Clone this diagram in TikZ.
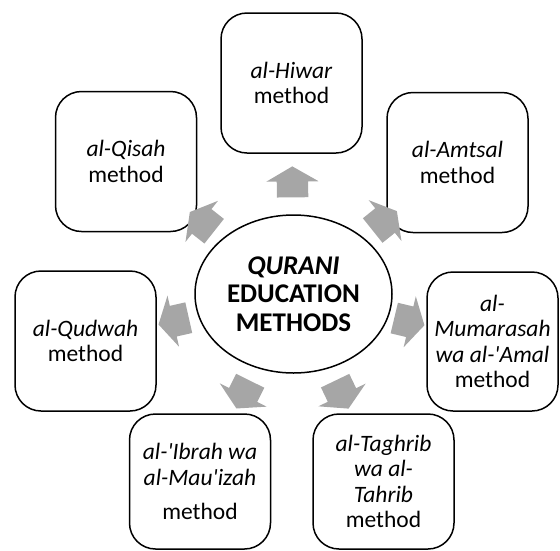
\documentclass[tikz,border=0pt]{standalone}
\usepackage{fontspec}
\setmainfont{Carlito}
\usetikzlibrary{shapes.geometric, shapes.arrows}

\definecolor{arrowgray}{RGB}{166,166,166}

\tikzset{
  methodbox/.style={draw=black, line width=1.5pt, rounded corners=26pt, fill=white,
    align=center, inner sep=0pt, minimum width=141pt, minimum height=140pt,
    font=\fontsize{23.5}{25.5}\selectfont},
  hub/.style={ellipse, draw=black, line width=1.5pt, fill=white, align=center,
    inner sep=0pt, minimum width=197pt, minimum height=158pt,
    font=\fontsize{27}{28.5}\selectfont\bfseries},
  flowarrow/.style={single arrow, fill=arrowgray, draw=none, inner sep=0pt,
    text height=31pt, text depth=0pt, minimum height=31pt,
    single arrow head extend=10.5pt, single arrow tip angle=120,
    sloped, allow upside down}
}

\begin{document}
\begin{tikzpicture}[x=1pt, y=-1pt]
        \useasboundingbox (0,0) rectangle (560,550);

        \node[hub] (quran) at (293.5,294) {\textit{QURANI}\\EDUCATION\\METHODS};

        \node[methodbox] (hiwar) at (291.5,83) {\textit{al-Hiwar}\\method};
        \node[methodbox] (amtsal) at (457.5,162.5) {\textit{al-Amtsal}\\method};
        \node[methodbox, minimum width=131pt, minimum height=139pt] (mumarasah) at (492.5,341.5)
          {\textit{al-}\\\textit{Mumarasah}\\\textit{wa al-\textquotesingle Amal}\\method};
        \node[methodbox, minimum height=135pt] (taghrib) at (383.5,481.5)
          {\textit{al-Taghrib}\\\textit{wa al-}\\\textit{Tahrib}\\method};
        \node[methodbox, minimum height=135pt] (ibrah) at (200,481.5)
          {\textit{al-\textquotesingle Ibrah wa}\\\textit{al-Mau\textquotesingle izah}\\[9pt]method};
        \node[methodbox] (qudwah) at (85.5,341) {\textit{al-Qudwah}\\method};
        \node[methodbox] (qisah) at (126,161.5) {\textit{al-Qisah}\\method};

        % arrows from the ellipse out to the boxes
        \path (quran.center) -- (hiwar.center) node[flowarrow, pos=.51] {};
        \path (quran.center) -- (amtsal.center) node[flowarrow, pos=.535] {};
        \path (quran.center) -- (mumarasah.center) node[flowarrow, pos=.56] {};
        \path (quran.center) -- (taghrib.center) node[flowarrow, pos=.515] {};
        \path (quran.center) -- (ibrah.center) node[flowarrow, pos=.515] {};
        \path (quran.center) -- (qudwah.center) node[flowarrow, pos=.555] {};
        \path (quran.center) -- (qisah.center) node[flowarrow, pos=.525] {};
    \end{tikzpicture}
\end{document}
